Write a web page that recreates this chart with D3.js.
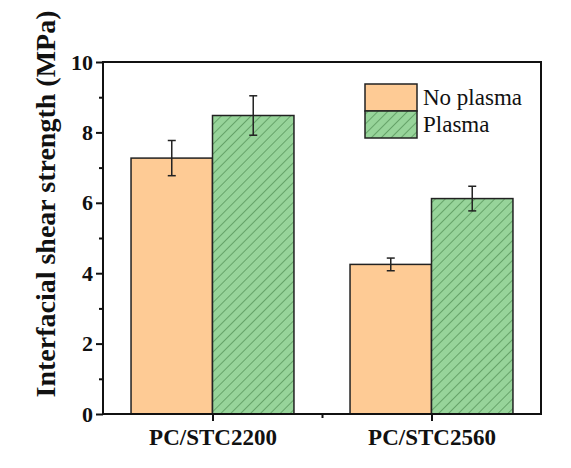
<!DOCTYPE html>
<html>
<head>
<meta charset="utf-8">
<script src="https://cdn.jsdelivr.net/npm/d3@7"></script>
<style>
  html, body { margin: 0; padding: 0; background: #fff; }
  svg { display: block; }
  text { font-family: "Liberation Serif", "DejaVu Serif", serif; fill: #111; }
</style>
</head>
<body>
<div id="chart"></div>
<script>
// data
const categories = ["PC/STC2200", "PC/STC2560"];
const seriesNames = ["No plasma", "Plasma"];
const noPlasma = [7.27, 4.25];
const noPlasmaErr = [0.5, 0.18];
const plasma = [8.48, 6.12];
const plasmaErr = [0.56, 0.35];
const yTicks = [0, 2, 4, 6, 8, 10];
const yMinorTicks = [1, 3, 5, 7, 9];

const width = 571, height = 468;
const margin = { top: 62, right: 30, bottom: 54, left: 103 };

const svg = d3.select("#chart").append("svg")
  .attr("width", width)
  .attr("height", height);

const defs = svg.append("defs");
const hatch = defs.append("pattern")
  .attr("id", "hatch")
  .attr("patternUnits", "userSpaceOnUse")
  .attr("width", 7)
  .attr("height", 7)
  .attr("patternTransform", "rotate(45)");
hatch.append("rect").attr("width", 7).attr("height", 7).attr("fill", "#97d49a");
hatch.append("line")
  .attr("x1", 0).attr("y1", 0).attr("x2", 0).attr("y2", 7)
  .attr("stroke", "#3d7a40").attr("stroke-width", 1.1);

const x = d3.scaleLinear()
  .domain([0.5, categories.length + 0.5])
  .range([margin.left, width - margin.right]);
const y = d3.scaleLinear()
  .domain([0, 10])
  .range([height - margin.bottom, margin.top]);

const barW = 0.372;
const series = [
  { name: seriesNames[0], values: noPlasma, err: noPlasmaErr, fill: "#fecb95", off: -1 },
  { name: seriesNames[1], values: plasma, err: plasmaErr, fill: "url(#hatch)", off: 0 }
];

// bars
series.forEach((s) => {
  const g = svg.append("g");
  g.selectAll("rect")
    .data(s.values)
    .enter()
    .append("rect")
    .attr("x", (d, i) => x(i + 1 + s.off * barW))
    .attr("y", (d) => y(d))
    .attr("width", x(1 + barW) - x(1))
    .attr("height", (d) => y(0) - y(d))
    .attr("fill", s.fill)
    .attr("stroke", "#222")
    .attr("stroke-width", 1.5);

  // error bars
  const cx = (i) => x(i + 1 + (s.off + 0.5) * barW);
  const eb = g.selectAll(".err")
    .data(s.values)
    .enter()
    .append("g")
    .attr("stroke", "#222")
    .attr("stroke-width", 1.5);
  eb.append("line")
    .attr("x1", (d, i) => cx(i)).attr("x2", (d, i) => cx(i))
    .attr("y1", (d, i) => y(d + s.err[i])).attr("y2", (d, i) => y(d - s.err[i]));
  eb.append("line")
    .attr("x1", (d, i) => cx(i) - 4).attr("x2", (d, i) => cx(i) + 4)
    .attr("y1", (d, i) => y(d + s.err[i])).attr("y2", (d, i) => y(d + s.err[i]));
  eb.append("line")
    .attr("x1", (d, i) => cx(i) - 4).attr("x2", (d, i) => cx(i) + 4)
    .attr("y1", (d, i) => y(d - s.err[i])).attr("y2", (d, i) => y(d - s.err[i]));
});

// frame
svg.append("rect")
  .attr("x", margin.left)
  .attr("y", margin.top)
  .attr("width", width - margin.right - margin.left)
  .attr("height", height - margin.bottom - margin.top)
  .attr("fill", "none")
  .attr("stroke", "#111")
  .attr("stroke-width", 2);

// y axis
const yAxis = svg.append("g")
  .attr("transform", `translate(${margin.left},0)`)
  .call(d3.axisLeft(y).tickValues(yTicks).tickSize(7).tickPadding(3).tickFormat(d3.format("d")));
yAxis.select(".domain").remove();
yAxis.selectAll(".tick line").attr("stroke", "#111").attr("stroke-width", 2);
yAxis.selectAll(".tick text")
  .style("font-family", "Liberation Serif, serif")
  .style("font-weight", "bold")
  .style("font-size", "22px")
  .attr("fill", "#111");

const yMinor = svg.append("g")
  .attr("transform", `translate(${margin.left},0)`)
  .call(d3.axisLeft(y).tickValues(yMinorTicks).tickSize(4).tickFormat(""));
yMinor.select(".domain").remove();
yMinor.selectAll(".tick line").attr("stroke", "#111").attr("stroke-width", 2);

// x axis
const xAxis = svg.append("g")
  .attr("transform", `translate(0,${y(0)})`)
  .call(d3.axisBottom(x).tickValues([1, 2]).tickSize(7).tickPadding(8)
    .tickFormat((d) => categories[d - 1]));
xAxis.select(".domain").remove();
xAxis.selectAll(".tick line").attr("stroke", "#111").attr("stroke-width", 2);
xAxis.selectAll(".tick text")
  .style("font-family", "Liberation Serif, serif")
  .style("font-weight", "bold")
  .style("font-size", "23px")
  .attr("fill", "#111");

const xMinor = svg.append("g")
  .attr("transform", `translate(0,${y(0)})`)
  .call(d3.axisBottom(x).tickValues([1.5]).tickSize(4).tickFormat(""));
xMinor.select(".domain").remove();
xMinor.selectAll(".tick line").attr("stroke", "#111").attr("stroke-width", 2);

// y label
svg.append("text")
  .attr("transform", "translate(55,204) rotate(-90)")
  .attr("text-anchor", "middle")
  .style("font-weight", "bold")
  .style("font-size", "28px")
  .text("Interfacial shear strength (MPa)");

// legend
const legend = svg.append("g").attr("transform", "translate(365,84)");
series.forEach((s, i) => {
  legend.append("rect")
    .attr("x", 0)
    .attr("y", i * 27)
    .attr("width", 52)
    .attr("height", 27)
    .attr("fill", s.fill)
    .attr("stroke", "#222")
    .attr("stroke-width", 1.5);
  legend.append("text")
    .attr("x", 58)
    .attr("y", i * 27 + 21)
    .style("font-size", "23px")
    .text(s.name);
});
</script>
</body>
</html>
